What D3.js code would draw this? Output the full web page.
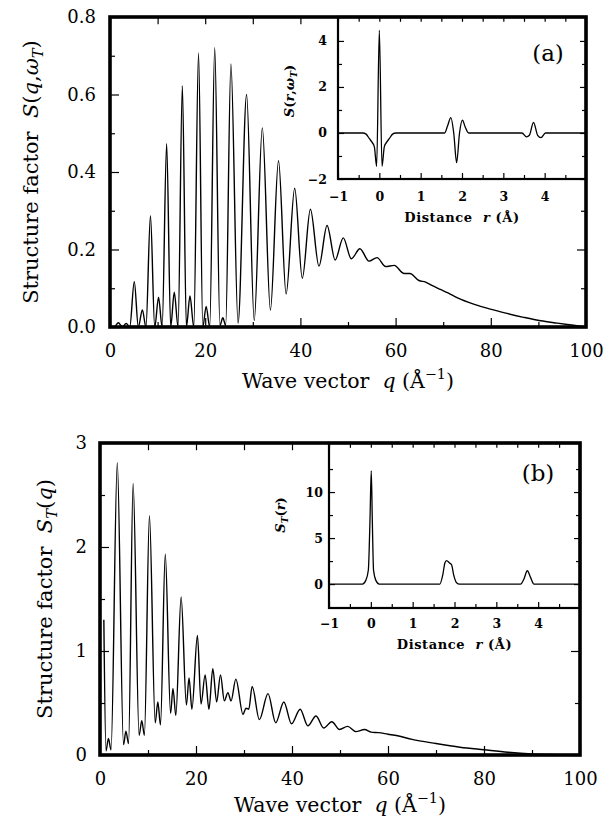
<!DOCTYPE html>
<html><head><meta charset="utf-8">
<script src="https://cdn.jsdelivr.net/npm/d3@7"></script>
<style>body{margin:0;background:#fff}svg{display:block}</style>
</head><body>
<script>
// ---------- DATA ----------
// (a) main: S(q, omega_T) vs q
const qA = [0,0.9,1.75,2.6,3.4,4.15,5.1,5.95,6.8,7.55,8.5,9.4,10.2,10.95,11.9,12.75,13.5,14.3,15.2,16.05,16.8,17.6,18.6,19.5,20.2,20.95,22.0,23.1,23.7,24.3,25.4,26.9,28.7,30.3,32.0,33.7,35.4,37.0,38.8,40.4,42.1,43.9,45.6,47.3,49.0,50.7,52.5,54.4,56.1,57.9,59.7,61.8,63.0,64.9,66.3,67.5,69.4,71.0,72.9,76.4,79.9,83.4,86.9,90.5,94.0,97.0,100];
const sA = [0,0,0.011,0,0.009,0,0.117,0,0.044,0,0.287,0,0.077,0,0.473,0,0.09,0,0.623,0,0.08,0,0.707,0,0.053,0,0.721,0.004,0.024,0.004,0.679,0.01,0.6,0.017,0.514,0.044,0.429,0.085,0.358,0.126,0.304,0.157,0.262,0.173,0.23,0.176,0.202,0.17,0.179,0.156,0.159,0.138,0.138,0.12,0.116,0.108,0.097,0.088,0.076,0.059,0.046,0.035,0.025,0.016,0.01,0.005,0];
// (a) inset: S(r, omega_T) vs r
const rA = [-1,-0.4,-0.32,-0.24,-0.17,-0.12,-0.065,0,0.065,0.12,0.17,0.24,0.32,0.4,1.58,1.65,1.73,1.8,1.87,1.94,2.01,2.08,2.16,3.45,3.56,3.63,3.73,3.83,3.91,4.02,5];
const gA = [0,0,-0.05,-0.25,-0.42,-0.6,-1.45,4.46,-1.45,-0.6,-0.42,-0.25,-0.05,0,0,0.3,0.67,0.0,-1.29,0.0,0.56,0.25,0,0,-0.17,-0.1,0.46,-0.1,-0.2,0,0];
// (b) main: S_T(q) vs q
const qB = [0.8,1.25,1.75,2.3,3.6,4.9,5.4,5.95,6.9,8.15,8.7,9.25,10.3,11.5,12.05,12.6,13.6,14.7,15.2,15.8,16.9,18.0,18.55,19.15,20.3,21.05,21.9,22.7,23.5,24.3,25.1,25.9,26.65,27.3,28.3,29.8,30.4,31.0,31.7,33.2,35.0,36.6,38.3,39.9,41.7,43.3,45.0,46.6,48.3,49.9,51.6,53.3,55.1,56.5,58,60,62,65,70,75,80,85,90,95,100];
const sB = [1.3,0.04,0.16,0.05,2.81,0.1,0.23,0.11,2.61,0.19,0.33,0.19,2.3,0.31,0.51,0.29,1.93,0.4,0.64,0.38,1.52,0.48,0.74,0.44,1.15,0.49,0.77,0.44,0.83,0.51,0.77,0.52,0.6,0.52,0.73,0.39,0.45,0.44,0.66,0.34,0.59,0.31,0.51,0.3,0.44,0.28,0.375,0.26,0.32,0.245,0.275,0.225,0.245,0.22,0.215,0.2,0.185,0.15,0.11,0.075,0.05,0.026,0.01,0.004,0];
// (b) inset: S_T(r) vs r
const rB = [-1,-0.2,-0.12,-0.06,-0.02,0.01,0.035,0.065,0.12,0.2,1.65,1.72,1.77,1.81,1.88,1.93,1.98,2.05,2.12,3.58,3.66,3.74,3.82,3.9,5];
const gB = [0,0,0.4,1.5,7,12.3,7,1.5,0.4,0,0,1.0,2.3,2.55,2.3,2.1,1.0,0.15,0,0,0.55,1.45,0.7,0,0];

// tick values
const qTicks = [0,20,40,60,80,100], qMinor = [10,30,50,70,90];
const yTicksA = [0,0.2,0.4,0.6,0.8], yMinorA = [0.1,0.3,0.5,0.7];
const yTicksB = [0,1,2,3], yMinorB = [0.5,1.5,2.5];
const rTicks = [-1,0,1,2,3,4], rMinor = [-0.5,0.5,1.5,2.5,3.5,4.5];
const yTicksIA = [-2,0,2,4], yMinorIA = [-1,1,3];
const yTicksIB = [0,5,10], yMinorIB = [2.5,7.5,12.5];

// ---------- DRAW ----------
const FONT = "'DejaVu Serif', serif";
const svg = d3.select('body').append('svg').attr('width',606).attr('height',819);

function rich(text, parts){
  const fs = parseFloat(text.attr('font-size'));
  let shift = 0;
  parts.forEach(p=>{
    const ts = text.append('tspan').text(p.t);
    if(p.i) ts.attr('font-style','italic');
    const target = p.sub ? 0.3 : p.sup ? -0.42 : 0;
    if(p.sub||p.sup) ts.attr('font-size', fs*0.7);
    const d = (target-shift)*fs;
    if(d!==0) ts.attr('dy', d);
    shift = target;
  });
}

function styleAxis(g, fs, bold){
  g.select('.domain').remove();
  g.selectAll('line').attr('stroke','#000').attr('stroke-width',1.2);
  g.selectAll('text').attr('font-family',FONT).attr('font-size',fs).attr('fill','#000')
    .attr('font-weight', bold?'bold':'normal');
}

function ticks(g, x, y, o){
  const [xl,xr] = x.range(), [yb,yt] = y.range();
  g.append('g').attr('transform',`translate(0,${yb})`)
    .call(d3.axisBottom(x).tickValues(o.xT).tickSize(-o.maj).tickPadding(o.xPad).tickFormat(o.xF))
    .call(s=>styleAxis(s,o.fs,o.bold));
  g.append('g').attr('transform',`translate(0,${yb})`)
    .call(d3.axisBottom(x).tickValues(o.xm).tickSize(-o.min).tickFormat(''))
    .call(s=>styleAxis(s,o.fs,o.bold));
  g.append('g').attr('transform',`translate(0,${yt})`)
    .call(d3.axisTop(x).tickValues(o.xT.concat(o.xm)).tickSize(-o.maj*0.8).tickFormat(''))
    .call(s=>styleAxis(s,o.fs,o.bold));
  g.append('g').attr('transform',`translate(${xl},0)`)
    .call(d3.axisLeft(y).tickValues(o.yT).tickSize(-o.maj).tickPadding(o.yPad).tickFormat(o.yF))
    .call(s=>styleAxis(s,o.fs,o.bold));
  g.append('g').attr('transform',`translate(${xl},0)`)
    .call(d3.axisLeft(y).tickValues(o.ym).tickSize(-o.min).tickFormat(''))
    .call(s=>styleAxis(s,o.fs,o.bold));
  g.append('g').attr('transform',`translate(${xr},0)`)
    .call(d3.axisRight(y).tickValues(o.yT).tickSize(-o.maj).tickFormat(''))
    .call(s=>styleAxis(s,o.fs,o.bold));
  g.append('g').attr('transform',`translate(${xr},0)`)
    .call(d3.axisRight(y).tickValues(o.ym).tickSize(-o.min).tickFormat(''))
    .call(s=>styleAxis(s,o.fs,o.bold));
}

function curve(g, x, y, xs, ys, w, id){
  const [xl,xr] = x.range(), [yb,yt] = y.range();
  svg.append('clipPath').attr('id',id).append('rect')
    .attr('x',xl).attr('y',yt).attr('width',xr-xl).attr('height',yb-yt);
  const line = d3.line().x(d=>x(d[0])).y(d=>y(d[1])).curve(d3.curveMonotoneX);
  g.append('path').datum(xs.map((v,i)=>[v,ys[i]]))
    .attr('d',line).attr('fill','none').attr('stroke','#000').attr('stroke-width',w)
    .attr('stroke-linejoin','round').attr('clip-path',`url(#${id})`);
}

function frame(g, x, y, w){
  const [xl,xr] = x.range(), [yb,yt] = y.range();
  g.append('rect').attr('x',xl).attr('y',yt).attr('width',xr-xl).attr('height',yb-yt)
    .attr('fill','none').attr('stroke','#000').attr('stroke-width',w);
}

function panel(cfg){
  const g = svg.append('g');
  const {x,y,ix,iy} = cfg;
  curve(g, x, y, cfg.q, cfg.s, 1.4, cfg.id+'m');
  ticks(g, x, y, {xT:qTicks, xm:qMinor, yT:cfg.yT, ym:cfg.ym, maj:9, min:5,
    xPad:17, yPad:cfg.yPad, xF:d3.format('d'), yF:cfg.yF, fs:18, bold:false});
  const [ixl,ixr] = ix.range(), [iyb,iyt] = iy.range();
  g.append('rect').attr('x',ixl).attr('y',iyt).attr('width',ixr-ixl).attr('height',iyb-iyt).attr('fill','#fff');
  curve(g, ix, iy, cfg.r, cfg.gr, 1.3, cfg.id+'i');
  ticks(g, ix, iy, {xT:rTicks, xm:rMinor, yT:cfg.iyT, ym:cfg.iym, maj:6, min:4,
    xPad:cfg.ixPad, yPad:cfg.iyPad, xF:d3.format('d'), yF:d3.format('d'), fs:12.5, bold:true});
  frame(g, ix, iy, 2.2);
  frame(g, x, y, 3.6);
  const t1 = g.append('text').attr('x',(ixl+ixr)/2).attr('y',cfg.distY)
    .attr('text-anchor','middle').attr('font-family',FONT).attr('font-size',13)
    .attr('font-weight','bold').attr('letter-spacing',0.6);
  rich(t1,[{t:'Distance\u00a0 '},{t:'r',i:1},{t:' (Å)'}]);
  const t2 = g.append('text').attr('transform',`translate(${cfg.iyLab[0]},${cfg.iyLab[1]}) rotate(-90)`)
    .attr('text-anchor','middle').attr('dominant-baseline','central').attr('font-family',FONT)
    .attr('font-size',13).attr('font-weight','bold');
  rich(t2, cfg.iyParts);
  g.append('text').attr('x',cfg.letter[0]).attr('y',cfg.letter[1]).attr('text-anchor','middle')
    .attr('font-family',FONT).attr('font-size',23).text(cfg.letterText);
  const t3 = g.append('text').attr('x',(x.range()[0]+x.range()[1])/2).attr('y',cfg.xTitleY)
    .attr('text-anchor','middle').attr('font-family',FONT).attr('font-size',20.5);
  rich(t3,[{t:'Wave vector\u00a0 '},{t:'q',i:1},{t:' (Å'},{t:'−1',sup:1},{t:')'}]);
  const t4 = g.append('text').attr('transform',`translate(${cfg.yLab[0]},${cfg.yLab[1]}) rotate(-90)`)
    .attr('text-anchor','middle').attr('dominant-baseline','central')
    .attr('font-family',FONT).attr('font-size',21);
  rich(t4, cfg.yParts);
}

panel({
  id:'a', q:qA, s:sA, r:rA, gr:gA,
  x:d3.scaleLinear([0,100],[110,586]), y:d3.scaleLinear([0,0.8],[327,17]),
  ix:d3.scaleLinear([-1,5],[338,586]), iy:d3.scaleLinear([-2,5.04],[179,17]),
  yT:yTicksA, ym:yMinorA, yPad:14, yF:d3.format('.1f'),
  iyT:yTicksIA, iym:yMinorIA, ixPad:13.5, iyPad:11,
  distY:221.5, iyLab:[289,91],
  iyParts:[{t:'S',i:1},{t:'('},{t:'r',i:1},{t:','},{t:'ω',i:1},{t:'T',i:1,sub:1},{t:')'}],
  letter:[548,61], letterText:'(a)', xTitleY:388, yLab:[31,172],
  yParts:[{t:'Structure factor\u00a0 '},{t:'S',i:1},{t:'('},{t:'q',i:1},{t:','},{t:'ω',i:1},{t:'T',i:1,sub:1},{t:')'}]
});

panel({
  id:'b', q:qB, s:sB, r:rB, gr:gB,
  x:d3.scaleLinear([0,100],[100,580]), y:d3.scaleLinear([0,3],[755,443]),
  ix:d3.scaleLinear([-1,5],[329,580]), iy:d3.scaleLinear([-2.6,15.33],[608,443]),
  yT:yTicksB, ym:yMinorB, yPad:13, yF:d3.format('d'),
  iyT:yTicksIB, iym:yMinorIB, ixPad:11, iyPad:6,
  distY:648.5, iyLab:[280,515],
  iyParts:[{t:'S',i:1},{t:'T',i:1,sub:1},{t:'('},{t:'r',i:1},{t:')'}],
  letter:[538,481], letterText:'(b)', xTitleY:812, yLab:[45,599],
  yParts:[{t:'Structure factor\u00a0 '},{t:'S',i:1},{t:'T',i:1,sub:1},{t:'('},{t:'q',i:1},{t:')'}]
});
</script>
</body></html>
